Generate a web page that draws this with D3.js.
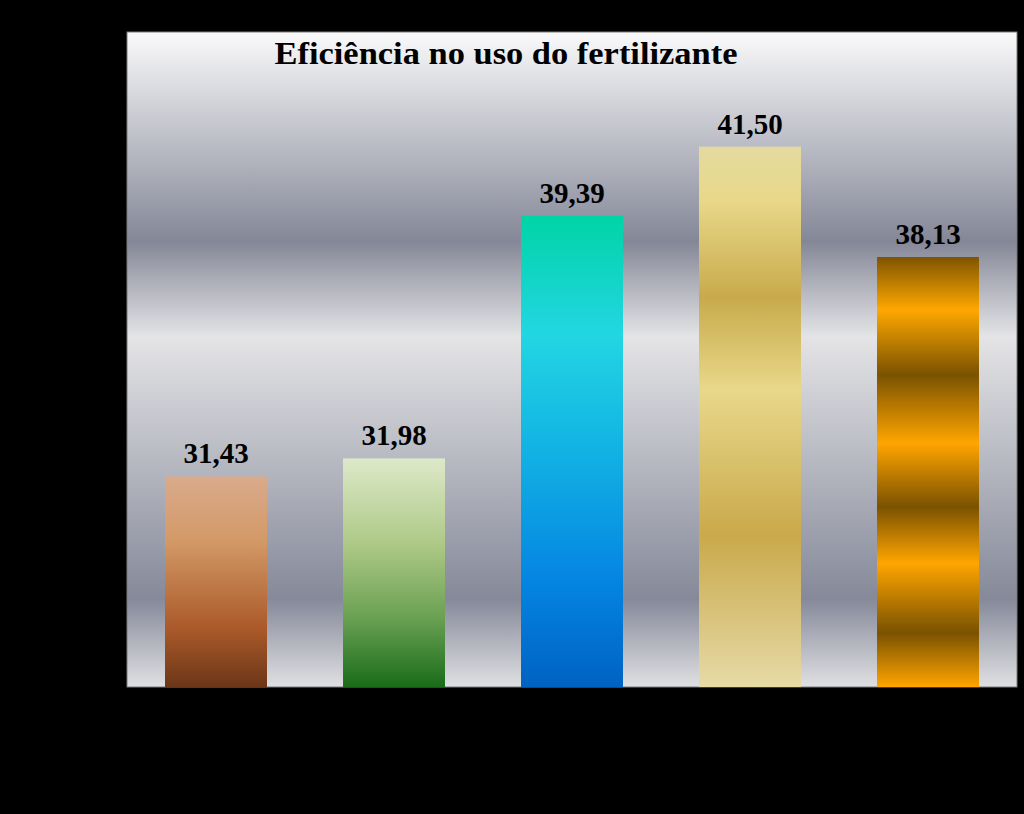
<!DOCTYPE html>
<html>
<head>
<meta charset="utf-8">
<script src="https://cdn.jsdelivr.net/npm/d3@7"></script>
<style>
html,body{margin:0;padding:0;background:#000;}
svg{display:block;}
</style>
</head>
<body>
<svg id="chart" width="1024" height="814"></svg>
<script>
const title = "Eficiência no uso do fertilizante";
const categories = ["T1", "T2", "T3", "T4", "T5"];
const values = [31.43, 31.98, 39.39, 41.50, 38.13];
const valueLabels = ["31,43", "31,98", "39,39", "41,50", "38,13"];
const yDomain = [25, 45];

const barGradients = [
  [[0, "#d9aa8c"], [0.3, "#d39a68"], [0.72, "#ab5a2a"], [1, "#6c3618"]],
  [[0, "#dde9c9"], [0.38, "#adc886"], [0.7, "#69a052"], [1, "#1a6c1a"]],
  [[0, "#00d4a6"], [0.25, "#22d6e2"], [0.5, "#12b2e4"], [0.78, "#0484e2"], [1, "#0062c2"]],
  [[0, "#e4daa0"], [0.1, "#e8d888"], [0.28, "#c8aa4c"], [0.45, "#e8d88a"], [0.72, "#c9a94b"], [1, "#e6daa6"]],
  [[0, "#7e5400"], [0.123, "#ffa800"], [0.274, "#7a5200"], [0.433, "#ffa500"], [0.581, "#7a5200"], [0.712, "#ffa500"], [0.874, "#7a5200"], [1, "#ffa500"]]
];
const bgStops = [[0, "#fafafb"], [0.32, "#848797"], [0.465, "#e4e4e6"], [0.865, "#858999"], [1, "#dfe0e2"]];

const svg = d3.select("#chart");
const m = {left: 127, top: 32, right: 1017, bottom: 687};

const defs = svg.append("defs");
function addGrad(id, stops) {
  const g = defs.append("linearGradient").attr("id", id)
    .attr("x1", 0).attr("y1", 0).attr("x2", 0).attr("y2", 1);
  g.selectAll("stop").data(stops).join("stop")
    .attr("offset", d => d[0]).attr("stop-color", d => d[1]);
}
addGrad("bg", bgStops);
barGradients.forEach((s, i) => addGrad("bar" + i, s));

svg.append("rect").attr("width", 1024).attr("height", 814).attr("fill", "#000");

const x = d3.scaleBand().domain(categories).range([m.left, m.right])
  .paddingInner(0.427).paddingOuter(0.2135);
const y = d3.scaleLinear().domain(yDomain).range([m.bottom, m.top]);

svg.append("rect")
  .attr("x", m.left).attr("y", m.top)
  .attr("width", m.right - m.left).attr("height", m.bottom - m.top)
  .attr("fill", "url(#bg)")
  .attr("stroke", "#7a7a7a").attr("stroke-width", 1);

svg.append("g").selectAll("rect").data(values).join("rect")
  .attr("x", (d, i) => x(categories[i]))
  .attr("y", d => y(d))
  .attr("width", x.bandwidth())
  .attr("height", d => y(yDomain[0]) - y(d))
  .attr("fill", (d, i) => `url(#bar${i})`);

svg.append("g").selectAll("text").data(values).join("text")
  .attr("x", (d, i) => x(categories[i]) + x.bandwidth() / 2)
  .attr("y", d => y(d) - 13)
  .attr("text-anchor", "middle")
  .attr("font-family", "'Liberation Serif','Times New Roman',serif")
  .attr("font-weight", "bold")
  .attr("font-size", 29)
  .attr("fill", "#000")
  .text((d, i) => valueLabels[i]);

svg.append("text")
  .attr("x", 506).attr("y", 64)
  .attr("text-anchor", "middle")
  .attr("font-family", "'Liberation Serif','Times New Roman',serif")
  .attr("font-weight", "bold")
  .attr("font-size", 31)
  .attr("textLength", 463)
  .attr("lengthAdjust", "spacingAndGlyphs")
  .attr("fill", "#000")
  .text(title);
</script>
</body>
</html>
